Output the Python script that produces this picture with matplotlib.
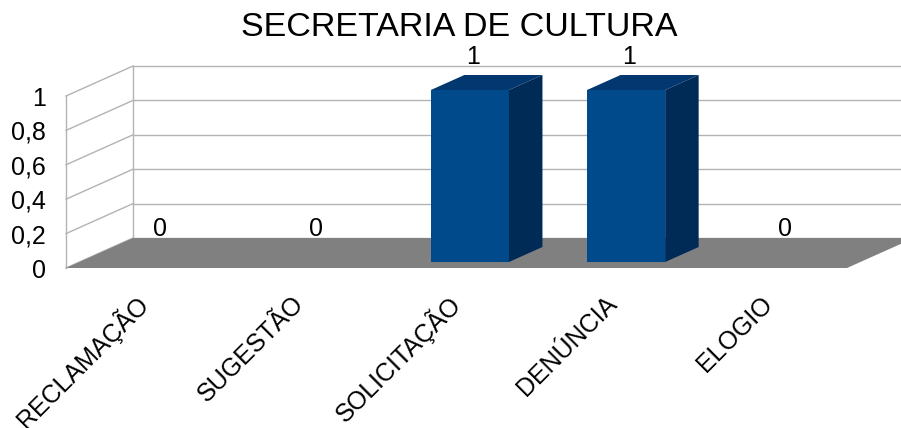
import matplotlib.pyplot as plt
from matplotlib.patches import Polygon
from matplotlib.ticker import FuncFormatter

plt.rcParams['font.family'] = ['Liberation Sans', 'DejaVu Sans']

# dados
categorias = ['RECLAMAÇÃO', 'SUGESTÃO', 'SOLICITAÇÃO', 'DENÚNCIA', 'ELOGIO']
valores = [0, 0, 1, 1, 0]
ticks_y = [0, 0.2, 0.4, 0.6, 0.8, 1]
titulo = 'SECRETARIA DE CULTURA'

# deslocamento obliquo da profundidade (unidades de dados)
DX = 0.429
DY = 0.1744
frente_barra = 0.2   # inicio da barra na profundidade
prof_barra = 0.5     # profundidade da barra
largura = 0.5

cor_frente = '#004a8c'
cor_lado = '#012b57'
cor_topo = '#02386f'
cor_grade = '#b3b3b3'

fig = plt.figure(figsize=(9.01, 4.28), dpi=100)
ax = fig.add_axes([66 / 901, 160 / 428, 781 / 901, 172 / 428])
ax.set_xlim(0, len(categorias))
ax.set_ylim(0, 1)
for s in ax.spines.values():
    s.set_visible(False)

n = len(categorias)

# chao
ax.add_patch(Polygon([(0, 0), (n, 0), (n + DX, DY), (DX, DY)],
                     closed=True, facecolor='#808080', edgecolor='none',
                     clip_on=False, zorder=1))

# grade da parede do fundo e da parede lateral
for v in ticks_y:
    ax.plot([DX, n + DX], [v + DY, v + DY], color=cor_grade, lw=1,
            clip_on=False, zorder=0.5)
    ax.plot([0, DX], [v, v + DY], color=cor_grade, lw=1,
            clip_on=False, zorder=0.5)
ax.plot([0, 0], [0, max(ticks_y)], color=cor_grade, lw=1, clip_on=False, zorder=0.5)
ax.plot([DX, DX], [DY, max(ticks_y) + DY], color=cor_grade, lw=1,
        clip_on=False, zorder=0.5)

# barras (face da frente)
x_centro = [i + 0.5 for i in range(n)]
x_frente = [x + frente_barra * DX for x in x_centro]
ax.bar(x_frente, valores, width=largura, bottom=frente_barra * DY,
       color=cor_frente, zorder=3, clip_on=False)

# faces do topo e lateral
for xf, v in zip(x_frente, valores):
    if v <= 0:
        continue
    y0 = frente_barra * DY
    xl = xf - largura / 2
    xr = xf + largura / 2
    ddx = prof_barra * DX
    ddy = prof_barra * DY
    ax.add_patch(Polygon([(xl, y0 + v), (xr, y0 + v), (xr + ddx, y0 + v + ddy),
                          (xl + ddx, y0 + v + ddy)], closed=True,
                         facecolor=cor_topo, edgecolor='none', zorder=3,
                         clip_on=False))
    ax.add_patch(Polygon([(xr, y0), (xr + ddx, y0 + ddy), (xr + ddx, y0 + v + ddy),
                          (xr, y0 + v)], closed=True,
                         facecolor=cor_lado, edgecolor='none', zorder=3,
                         clip_on=False))

# rotulos de dados
for xf, v in zip(x_frente, valores):
    ax.annotate(str(v), (xf, v + frente_barra * DY), xytext=(2, 24),
                textcoords='offset points', ha='center', va='center',
                fontsize=18, zorder=5, annotation_clip=False)

# eixos
ax.set_yticks(ticks_y)
ax.yaxis.set_major_formatter(FuncFormatter(lambda v, p: ('%g' % v).replace('.', ',')))
ax.tick_params(axis='y', length=0, pad=14.4, labelsize=18)
ax.set_xticks(x_centro)
ax.set_xticklabels(categorias, rotation=45, ha='right', va='center',
                   rotation_mode='anchor', fontsize=18)
ax.tick_params(axis='x', length=0, pad=23)

fig.text(459 / 901, 1 - 27 / 428, titulo, ha='center', va='center', fontsize=24.5)

fig.savefig('out.png', dpi=100)
